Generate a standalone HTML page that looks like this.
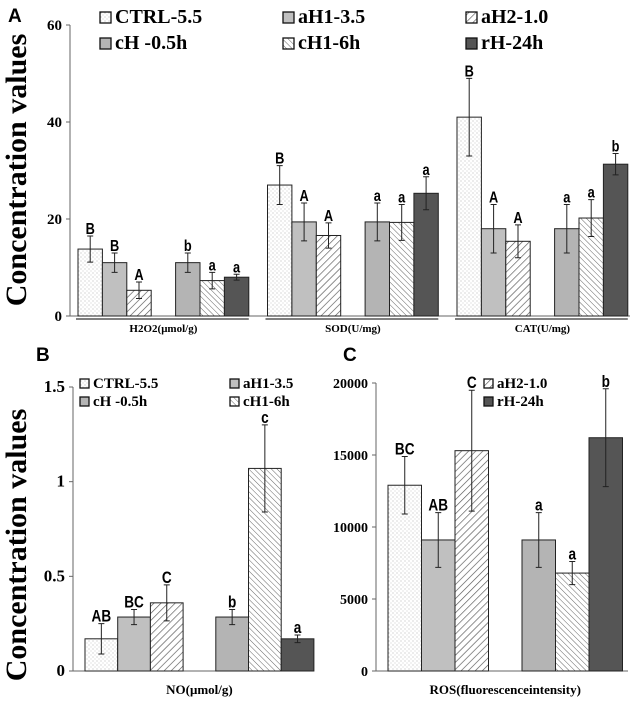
<!DOCTYPE html>
<html><head><meta charset="utf-8"><style>
body{margin:0;background:#fff;}
svg{display:block;font-family:"Liberation Serif",serif;}
</style></head><body>
<svg id="c" width="638" height="701" viewBox="0 0 638 701">
<defs>
<pattern id="dots" width="4" height="4" patternUnits="userSpaceOnUse"><rect width="4" height="4" fill="#fff"/><circle cx="1" cy="1" r="0.5" fill="#999"/><circle cx="3" cy="3" r="0.5" fill="#bbb"/></pattern>
<pattern id="fwd" width="5" height="5" patternUnits="userSpaceOnUse" patternTransform="rotate(45)"><rect width="5" height="5" fill="#fff"/><line x1="0" y1="0" x2="0" y2="5" stroke="#555" stroke-width="1.3"/></pattern>
<pattern id="bwd" width="4" height="4" patternUnits="userSpaceOnUse" patternTransform="rotate(-45)"><rect width="4" height="4" fill="#fff"/><line x1="0" y1="0" x2="0" y2="4" stroke="#666" stroke-width="1"/></pattern>
</defs>
</svg>
<script>
const series=["CTRL-5.5","aH1-3.5","aH2-1.0","cH -0.5h","cH1-6h","rH-24h"];
const fills=["url(#dots)","#c0c0c0","url(#fwd)","#b4b4b4","url(#bwd)","#555"];
const groupsA=["H2O2(μmol/g)","SOD(U/mg)","CAT(U/mg)"];
const valsA=[[13.8,11,5.3,11,7.3,8],[27,19.4,16.6,19.4,19.3,25.3],[41,18,15.4,18,20.2,31.3]];
const errA=[[2.7,2,1.7,2,1.7,0.6],[4,3.9,2.6,3.9,3.7,3.4],[8,5,3.4,5,3.8,2.2]];
const lettersA=[["B","B","A","b","a","a"],["B","A","A","a","a","a"],["B","A","A","a","a","b"]];
const ticksA=[0,20,40,60];
const valsB=[0.17,0.285,0.36,0.285,1.07,0.17];
const errB=[0.08,0.04,0.095,0.04,0.23,0.02];
const lettersB=["AB","BC","C","b","c","a"];
const ticksB=[0,0.5,1,1.5];
const valsC=[12900,9100,15300,9100,6800,16200];
const errC=[2000,1900,4200,1900,800,3400];
const lettersC=["BC","AB","C","a","a","b"];
const ticksC=[0,5000,10000,15000,20000];
const svg=document.getElementById('c');
const NS="http://www.w3.org/2000/svg";
function mk(t,a,txt){const e=document.createElementNS(NS,t);for(const k in a)e.setAttribute(k,a[k]);if(txt!==undefined)e.textContent=txt;svg.appendChild(e);return e;}
function panel(o){
  const y=v=>o.y0-(v/o.max)*(o.y0-o.yTop);
  let e=mk('line',{x1:o.ax,y1:o.yTop,x2:o.ax,y2:o.y0,stroke:'#666'});
  
  e=mk('line',{x1:o.ax,y1:o.y0,x2:o.axEnd,y2:o.y0,stroke:'#666'});
  
  o.ticks.forEach(t=>{
    e=mk('line',{x1:o.ax-4,y1:y(t),x2:o.ax,y2:y(t),stroke:'#666'});
    
    e=mk('text',{x:o.ax-8,y:y(t)+5,'text-anchor':'end','font-size':o.tfs,'font-weight':'bold'},String(t));
    
  });
  o.groups.forEach((g,gi)=>{
    const gx=o.gx0+gi*o.gstep;
    if(o.under){e=mk('line',{x1:gx-2,y1:o.y0+3,x2:gx+7*o.bw,y2:o.y0+3,stroke:'#333','stroke-width':1.2});
      }
    e=mk('text',{x:gx+3.5*o.bw,y:o.labY,'text-anchor':'middle','font-size':o.lfs,'font-weight':'bold'},g.name);
    
    g.vals.forEach((v,i)=>{
      const bx=gx+(i<3?i:i+1)*o.bw;
      e=mk('rect',{x:bx,y:y(v),width:o.bw,height:o.y0-y(v),fill:fills[i],stroke:'#222','stroke-width':1});
      
      
      const cx=bx+o.bw/2, hi=y(v+g.err[i]), lo=y(Math.max(0,v-g.err[i]));
      e=mk('path',{d:`M${cx} ${hi}V${lo}M${cx-3} ${hi}H${cx+3}M${cx-3} ${lo}H${cx+3}`,stroke:'#222',fill:'none','stroke-width':1});
      
      e=mk('text',{x:cx,y:hi-2,'text-anchor':'middle','font-size':o.sfs,'font-family':'Liberation Sans,sans-serif','font-weight':'bold',transform:`translate(${cx} 0) scale(0.8 1) translate(${-cx} 0)`},g.let[i]);
      
    });
  });
}
panel({id:'a',ax:70,axEnd:630,yTop:25,y0:316,max:60,ticks:ticksA,tfs:15,lfs:11,sfs:16,labY:332,under:true,
  gx0:78,gstep:189.5,bw:24.4,groups:groupsA.map((n,i)=>({name:n,vals:valsA[i],err:errA[i],let:lettersA[i]}))});
panel({id:'b',ax:73,axEnd:313,yTop:387,y0:671,max:1.5,ticks:ticksB,tfs:17,lfs:13,sfs:17,labY:694,under:false,
  gx0:85,gstep:0,bw:32.7,groups:[{name:"NO(μmol/g)",vals:valsB,err:errB,let:lettersB}]});
panel({id:'c',ax:376,axEnd:628,yTop:383,y0:671,max:20000,ticks:ticksC,tfs:14,lfs:13,sfs:17,labY:694,under:false,
  gx0:388,gstep:0,bw:33.5,groups:[{name:"ROS(fluorescenceintensity)",vals:valsC,err:errC,let:lettersC}]});
function legend(idx,x,yy,fs,sz){
  let e=mk('rect',{x:x,y:yy-sz+1,width:sz,height:sz,fill:fills[idx],stroke:'#111','stroke-width':1.3});
  
  e=mk('text',{x:x+sz+4,y:yy+1,'font-size':fs,'font-weight':'bold'},series[idx]);
  
}
legend(0,100,22,20,11);legend(1,283,22,20,11);legend(2,466,22,20,11);
legend(3,100,48,20,11);legend(4,283,48,20,11);legend(5,466,48,20,11);
legend(0,80,387,15,9);legend(1,230,387,15,9);legend(3,80,405,15,9);legend(4,230,405,15,9);
legend(2,484,387,15,9);legend(5,484,405,15,9);
[["A",8,22],["B",36,361],["C",343,361]].forEach(p=>{
  const e=mk('text',{x:p[1],y:p[2],'font-size':19,'font-weight':'bold','font-family':'Liberation Sans,sans-serif'},p[0]);
  
});
[[26,170],[26,545]].forEach(p=>{
  const e=mk('text',{x:p[0],y:p[1],'font-size':30,'font-weight':'bold','text-anchor':'middle',transform:`rotate(-90 ${p[0]} ${p[1]})`},"Concentration values");
  
});
</script>
</body></html>
